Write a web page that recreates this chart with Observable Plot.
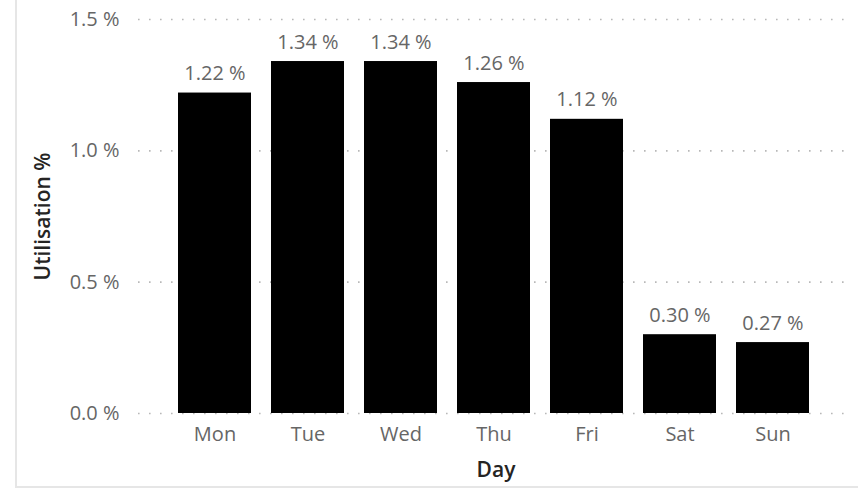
<!DOCTYPE html>
<html>
<head>
<meta charset="utf-8">
<script src="https://cdn.jsdelivr.net/npm/d3@7"></script>
<script src="https://cdn.jsdelivr.net/npm/@observablehq/plot@0.6"></script>
<style>
  html, body { margin: 0; padding: 0; background: #fff; }
  #wrap { position: relative; width: 858px; height: 490px; overflow: hidden; }
  #frame { position: absolute; left: 15px; top: -2px; width: 841px; height: 488px;
           border-left: 2px solid #e6e6e6; border-bottom: 2px solid #e6e6e6; border-right: 1px solid #eeeeee;
           pointer-events: none; }
</style>
</head>
<body>
<div id="wrap"><div id="frame"></div></div>
<script>
const days = ["Mon", "Tue", "Wed", "Thu", "Fri", "Sat", "Sun"];
const utilisation = [1.22, 1.34, 1.34, 1.26, 1.12, 0.30, 0.27];
const yTicks = [0, 0.5, 1.0, 1.5];
const xTitle = "Day";
const yTitle = "Utilisation %";

const data = days.map((d, i) => ({day: d, value: utilisation[i]}));
const font = "'Segoe UI', 'Open Sans', 'Noto Sans', sans-serif";

const chart = Plot.plot({
  width: 858,
  height: 490,
  marginLeft: 138,
  marginRight: 13,
  marginTop: 19,
  marginBottom: 77,
  style: {fontFamily: font, fontSize: "20px", color: "#666666", background: "transparent"},
  x: {domain: days, paddingInner: 0.22, paddingOuter: 0.3845, align: 0.528, label: null},
  y: {domain: [0, 1.5], ticks: yTicks, label: null},
  marks: [
    Plot.gridY(yTicks, {stroke: "#b8b8b8", strokeOpacity: 1, strokeWidth: 1.6, strokeDasharray: "1.6,9.4"}),
    Plot.axisY(yTicks, {tickSize: 0, tickPadding: 19, tickFormat: d => d.toFixed(1) + " %", fill: "#666666", fontSize: 20, label: null}),
    Plot.axisX({tickSize: 0, tickPadding: 13, fill: "#666666", fontSize: 20, label: null}),
    Plot.barY(data, {x: "day", y: "value", fill: "#000000"}),
    Plot.text(data, {x: "day", y: "value", text: d => d.value.toFixed(2) + " %", dy: -13, lineAnchor: "bottom", fill: "#666666", fontSize: 20}),
    Plot.text([xTitle], {frameAnchor: "bottom", dx: 4, dy: 57, lineAnchor: "middle", textAnchor: "middle", text: d => d, fill: "#252423", fontSize: 21, fontWeight: 600}),
    Plot.text([yTitle], {frameAnchor: "left", dx: -95, rotate: -90, lineAnchor: "middle", textAnchor: "middle", text: d => d, fill: "#252423", fontSize: 21, fontWeight: 600})
  ]
});
document.getElementById("wrap").prepend(chart);
</script>
</body>
</html>
